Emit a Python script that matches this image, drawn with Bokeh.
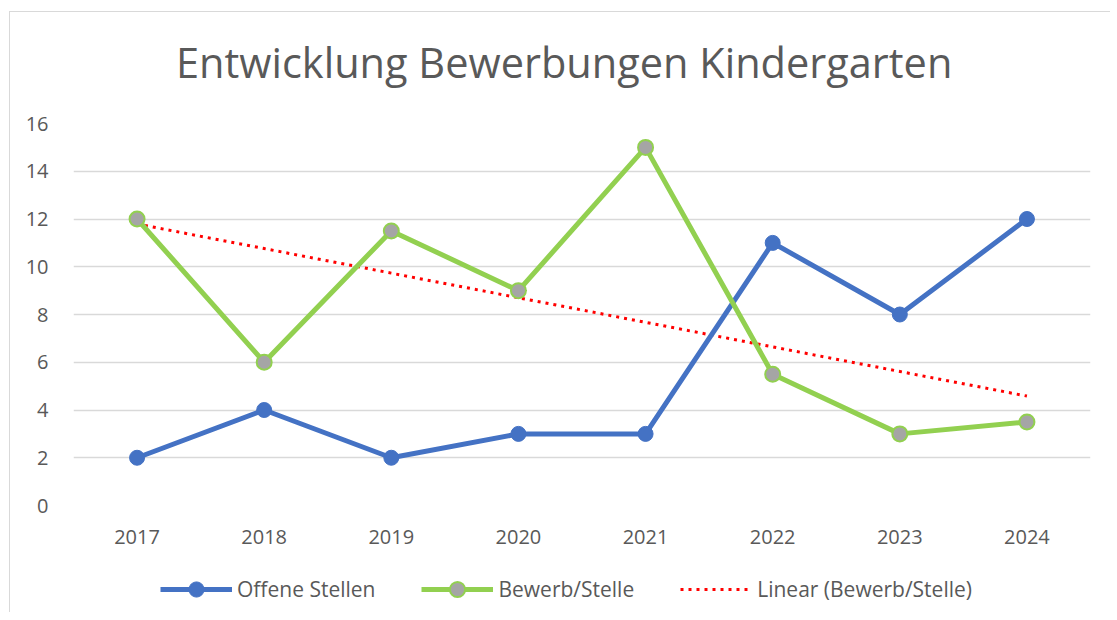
import numpy as np
from bokeh.plotting import figure
from bokeh.layouts import column
from bokeh.models import Range1d, FixedTicker, Legend, LegendItem, Label
from bokeh.embed import file_html
from bokeh.resources import INLINE

years = [2017, 2018, 2019, 2020, 2021, 2022, 2023, 2024]
offene_stellen = [2, 4, 2, 3, 3, 11, 8, 12]
bewerb_stelle = [12, 6, 11.5, 9, 15, 5.5, 3, 3.5]
y_ticks = [0, 2, 4, 6, 8, 10, 12, 14, 16]
title_text = "Entwicklung Bewerbungen Kindergarten"
series_names = ["Offene Stellen", "Bewerb/Stelle", "Linear (Bewerb/Stelle)"]

# linear trendline (least squares) of Bewerb/Stelle, as Excel does
slope, intercept = np.polyfit(years, bewerb_stelle, 1)
trend = [slope * y + intercept for y in years]

FONT = "Open Sans"
TXT = "#595959"
BLUE, GREEN, GREY, RED = "#4472c4", "#92d050", "#a5a5a5", "#ff0000"

line_styles = [
    dict(line_color=BLUE, line_width=5),
    dict(line_color=GREEN, line_width=5),
    dict(line_color=RED, line_width=3, line_dash="3 5", line_cap="butt"),
]
marker_styles = [
    dict(size=15, fill_color=BLUE, line_color=BLUE),
    dict(size=15, fill_color=GREY, line_color=GREEN, line_width=2),
]


def strip(height, x_range):
    f = figure(width=1100, height=height, x_range=x_range, y_range=Range1d(0, 1),
               output_backend="svg", toolbar_location=None,
               min_border_left=0, min_border_right=0,
               min_border_top=0, min_border_bottom=0)
    f.axis.visible = False
    f.grid.visible = False
    f.outline_line_color = None
    f.border_fill_color = "white"
    f.background_fill_color = "white"
    return f


# ---------------- main chart ----------------
p = figure(width=1100, height=446,
           x_range=Range1d(2016.5, 2024.5), y_range=Range1d(0, 16),
           output_backend="svg", toolbar_location=None,
           min_border_left=63, min_border_right=20,
           min_border_top=12, min_border_bottom=52)
p.outline_line_color = None
p.background_fill_color = "white"
p.border_fill_color = "white"

p.xgrid.grid_line_color = None
p.ygrid.grid_line_color = "#d9d9d9"
p.ygrid.grid_line_width = 1.5

p.yaxis.ticker = FixedTicker(ticks=y_ticks)
p.xaxis.ticker = FixedTicker(ticks=years)
for ax in (p.xaxis, p.yaxis):
    ax.axis_line_color = None
    ax.major_tick_line_color = None
    ax.minor_tick_line_color = None
    ax.major_label_text_color = TXT
    ax.major_label_text_font = FONT
    ax.major_label_text_font_size = "20px"
p.yaxis.major_label_standoff = 19
p.xaxis.major_label_standoff = 18

p.line(years, trend, **line_styles[2])
p.line(years, offene_stellen, **line_styles[0])
p.scatter(years, offene_stellen, **marker_styles[0])
p.line(years, bewerb_stelle, **line_styles[1])
p.scatter(years, bewerb_stelle, **marker_styles[1])

# ---------------- title strip (frame aligned with the chart's) ----------------
t = strip(99, p.x_range)
t.add_layout(Label(x=2020.36, y=0.505, text=title_text, text_align="center",
                   text_baseline="middle", text_font=FONT,
                   text_font_size="41.5px", text_color=TXT))

# ---------------- legend strip ----------------
# the series are drawn here outside its visible range only to give the
# legend its glyphs
q = strip(55, Range1d(0, 1))
l1 = q.line(years, offene_stellen, **line_styles[0])
m1 = q.scatter(years, offene_stellen, **marker_styles[0])
l2 = q.line(years, bewerb_stelle, **line_styles[1])
m2 = q.scatter(years, bewerb_stelle, **marker_styles[1])
l3 = q.line(years, trend, **line_styles[2])

legend = Legend(items=[
    LegendItem(label=series_names[0], renderers=[l1, m1]),
    LegendItem(label=series_names[1], renderers=[l2, m2]),
    LegendItem(label=series_names[2], renderers=[l3]),
], orientation="horizontal", location=(87, 4),
    glyph_width=72, glyph_height=38, label_height=38, spacing=46,
    label_text_font=FONT, label_text_font_size="21px",
    label_text_color=TXT, label_standoff=5, label_text_baseline="middle",
    border_line_color=None, background_fill_alpha=0, margin=0, padding=0)
q.add_layout(legend)

layout = column(t, p, q, spacing=0)
layout.styles = {"margin-left": "9px", "margin-top": "11px",
                 "border-left": "1px solid #d9d9d9", "border-top": "1px solid #d9d9d9"}

open("out.html", "w").write(file_html(layout, INLINE))
